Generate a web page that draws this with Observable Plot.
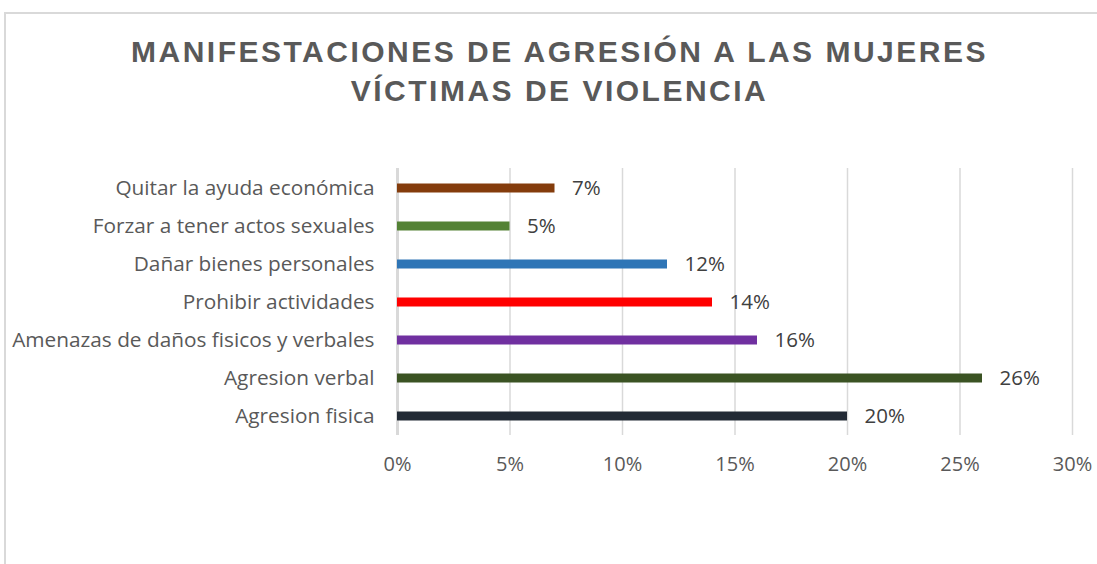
<!DOCTYPE html>
<html><head><meta charset="utf-8">
<script src="https://cdn.jsdelivr.net/npm/d3@7"></script>
<script src="https://cdn.jsdelivr.net/npm/@observablehq/plot@0.6"></script>
<style>
body{margin:0;background:#fff;width:1097px;height:564px;overflow:hidden;position:relative;font-family:"Liberation Sans",Arial,sans-serif}
#frame{position:absolute;left:4px;top:12px;width:1100px;height:560px;border-top:2px solid #d9d9d9;border-left:2px solid #d9d9d9}
#title{position:absolute;left:1px;width:1117px;top:32px;text-align:center;font-weight:bold;font-size:30px;line-height:39px;color:#595959;letter-spacing:2.5px}
#chart{position:absolute;left:0;top:0}
</style></head><body>
<div id="frame"></div>
<div id="title">MANIFESTACIONES DE AGRESIÓN A LAS MUJERES<br>VÍCTIMAS DE VIOLENCIA</div>
<div id="chart"></div>
<script>
const categories = ["Quitar la ayuda económica","Forzar a tener actos sexuales","Dañar bienes personales","Prohibir actividades","Amenazas de daños fisicos y verbales","Agresion verbal","Agresion fisica"];
const values = [0.07,0.05,0.12,0.14,0.16,0.26,0.20];
const colors = ["#843C0C","#548235","#2E75B6","#FF0000","#7030A0","#3B5323","#222A35"];
const xTicks = [0,0.05,0.10,0.15,0.20,0.25,0.30];
const data = categories.map((c,i)=>({c, v: values[i], col: colors[i]}));
const fmt = d=>Math.round(d*100)+"%";
const plot = Plot.plot({
  width:1097, height:564,
  marginLeft:397, marginRight:25, marginTop:168, marginBottom:129,
  style:{fontFamily:"'Open Sans', sans-serif", fontSize:"19px", color:"#595959", background:"transparent"},
  x:{domain:[0,0.30], ticks:xTicks, tickFormat:fmt, label:null},
  y:{domain:categories, label:null, padding:0},
  marks:[
    Plot.ruleX(xTicks.slice(1),{stroke:"#d9d9d9", strokeWidth:1.5}),
    Plot.ruleX([0],{stroke:"#d9d9d9", strokeWidth:3}),
    Plot.axisX({ticks:xTicks, tickSize:0, tickPadding:21, tickFormat:fmt, fill:"#595959", fontSize:20, label:null}),
    Plot.axisY({tickSize:0, tickPadding:23, fill:"#595959", fontSize:20.8, label:null}),
    Plot.barX(data,{x:"v", y:"c", fill:"col", insetTop:14.5, insetBottom:14.5}),
    Plot.text(data,{x:"v", y:"c", text:d=>fmt(d.v), dx:17, textAnchor:"start", fill:"#404040", fontSize:20.5})
  ]
});
document.getElementById("chart").appendChild(plot);
</script>
</body></html>
